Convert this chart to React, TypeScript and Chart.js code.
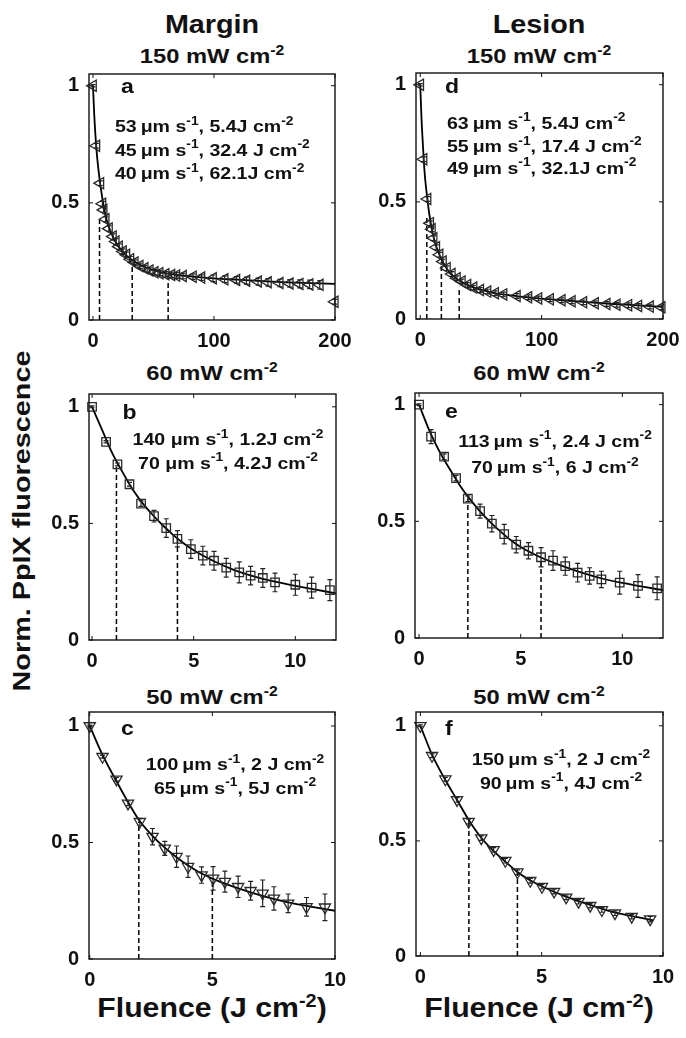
import React, { useEffect, useRef } from "react";
import { Chart, registerables } from "chart.js";

Chart.register(...registerables);

const FONT = '"Liberation Sans", Arial, Helvetica, sans-serif';

// ---------- Panel a : Margin, 150 mW cm-2 ----------
const aX = [0, 2.8, 6.1, 7.8, 8.8, 10.5, 13.2, 16.5, 18.8, 21.5, 24.8, 27.6, 30.9, 34.5, 38.6, 42.7, 46.9, 51, 55.1, 60, 64.8, 68.9, 74.4, 82.6, 89.6, 99.2, 108.8, 118.5, 126.8, 136.4, 144.6, 154.3, 162.6, 170.8, 179, 187.4, 199.8];
const aY = [1.0, 0.744, 0.584, 0.496, 0.47, 0.43, 0.39, 0.356, 0.335, 0.313, 0.292, 0.278, 0.259, 0.245, 0.231, 0.221, 0.211, 0.204, 0.2, 0.195, 0.192, 0.19, 0.188, 0.185, 0.181, 0.178, 0.174, 0.171, 0.168, 0.164, 0.161, 0.158, 0.156, 0.154, 0.152, 0.15, 0.078];
const aErr = [0.005, 0.01, 0.01, 0.01, 0.01, 0.01, 0.012, 0.012, 0.012, 0.012, 0.012, 0.012, 0.012, 0.012, 0.012, 0.012, 0.012, 0.012, 0.012, 0.012, 0.012, 0.012, 0.012, 0.012, 0.012, 0.014, 0.014, 0.014, 0.015, 0.015, 0.016, 0.016, 0.016, 0.017, 0.018, 0.018, 0.01];
const aFitX = [0, 1, 2, 3, 4, 5, 6, 7, 8, 10, 12, 14, 17, 20, 24, 28, 33, 38, 45, 52, 60, 70, 85, 100, 120, 140, 160, 180, 200];
const aFitY = [1.0, 0.88, 0.79, 0.72, 0.665, 0.62, 0.58, 0.545, 0.51, 0.455, 0.415, 0.385, 0.35, 0.322, 0.295, 0.274, 0.254, 0.238, 0.222, 0.21, 0.2, 0.192, 0.184, 0.178, 0.172, 0.166, 0.161, 0.157, 0.154];
const aDashX = [5.4, 32.4, 62.1];
const aDashTop = [0.44, 0.242, 0.2];

// ---------- Panel d : Lesion, 150 mW cm-2 ----------
const dX = [0, 2.7, 6.0, 8.2, 9.6, 11, 13.2, 15.9, 18.7, 22, 26, 30.2, 34.3, 38.9, 43.9, 49.4, 55.4, 61.7, 68.6, 79.6, 89.1, 97.4, 107, 116.6, 124.9, 134.4, 144, 153.6, 161.9, 171.5, 179.7, 189.3, 198.9];
const dY = [1.0, 0.682, 0.512, 0.409, 0.383, 0.345, 0.306, 0.274, 0.245, 0.217, 0.192, 0.174, 0.16, 0.145, 0.134, 0.124, 0.117, 0.11, 0.105, 0.098, 0.093, 0.088, 0.084, 0.08, 0.076, 0.071, 0.067, 0.064, 0.061, 0.059, 0.056, 0.053, 0.05];
const dErr = [0.005, 0.01, 0.01, 0.01, 0.01, 0.01, 0.01, 0.01, 0.01, 0.01, 0.01, 0.01, 0.01, 0.01, 0.01, 0.01, 0.01, 0.01, 0.01, 0.01, 0.01, 0.01, 0.01, 0.01, 0.01, 0.01, 0.01, 0.01, 0.01, 0.01, 0.01, 0.01, 0.01];
const dFitX = [0, 1, 2, 3, 4, 5, 6, 7, 8, 10, 12, 14, 17, 20, 24, 28, 33, 38, 45, 52, 60, 70, 85, 100, 120, 140, 160, 180, 200];
const dFitY = [1.0, 0.86, 0.76, 0.67, 0.6, 0.55, 0.505, 0.465, 0.43, 0.37, 0.33, 0.298, 0.26, 0.23, 0.2, 0.18, 0.162, 0.148, 0.133, 0.122, 0.112, 0.104, 0.094, 0.087, 0.079, 0.071, 0.064, 0.058, 0.052];
const dDashX = [5.4, 17.4, 32.1];
const dDashTop = [0.44, 0.245, 0.138];

// ---------- Panel b : Margin, 60 mW cm-2 ----------
const bX = [0, 0.69, 1.25, 1.84, 2.41, 3.05, 3.65, 4.2, 4.86, 5.45, 6.0, 6.6, 7.24, 7.8, 8.4, 9.0, 10.0, 10.8, 11.7];
const bY = [1.0, 0.85, 0.753, 0.668, 0.585, 0.531, 0.48, 0.434, 0.39, 0.362, 0.34, 0.31, 0.29, 0.276, 0.266, 0.247, 0.237, 0.225, 0.214];
const bErr = [0.004, 0.005, 0.006, 0.008, 0.012, 0.025, 0.04, 0.035, 0.04, 0.04, 0.04, 0.04, 0.045, 0.04, 0.04, 0.04, 0.045, 0.045, 0.045];
const bFitX = [0, 0.5, 1, 1.5, 2, 2.5, 3, 3.5, 4, 4.5, 5, 6, 7, 8, 9, 10, 11, 12];
const bFitY = [1.0, 0.9, 0.8, 0.72, 0.645, 0.585, 0.535, 0.49, 0.45, 0.415, 0.385, 0.338, 0.3, 0.272, 0.25, 0.232, 0.216, 0.2];
const bDashX = [1.2, 4.2];
const bDashTop = [0.755, 0.435];

// ---------- Panel e : Lesion, 60 mW cm-2 ----------
const eX = [0, 0.59, 1.23, 1.82, 2.4, 3.0, 3.58, 4.19, 4.78, 5.38, 6.0, 6.59, 7.19, 7.8, 8.39, 8.97, 9.87, 10.77, 11.71];
const eY = [1.0, 0.863, 0.777, 0.685, 0.597, 0.544, 0.49, 0.445, 0.4, 0.374, 0.346, 0.332, 0.308, 0.28, 0.266, 0.251, 0.237, 0.223, 0.213];
const eErr = [0.004, 0.03, 0.012, 0.012, 0.012, 0.03, 0.035, 0.042, 0.035, 0.035, 0.041, 0.042, 0.039, 0.04, 0.035, 0.035, 0.049, 0.049, 0.049];
const eFitX = [0, 0.5, 1, 1.5, 2, 2.5, 3, 3.5, 4, 4.5, 5, 6, 7, 8, 9, 10, 11, 12];
const eFitY = [1.0, 0.89, 0.8, 0.725, 0.655, 0.595, 0.543, 0.497, 0.457, 0.42, 0.39, 0.345, 0.31, 0.28, 0.255, 0.236, 0.22, 0.205];
const eDashX = [2.4, 6];
const eDashTop = [0.597, 0.345];

// ---------- Panel c : Margin, 50 mW cm-2 ----------
const cX = [0, 0.52, 1.09, 1.56, 2.04, 2.56, 3.06, 3.54, 4.01, 4.56, 5.03, 5.51, 6.05, 6.56, 7.05, 7.51, 8.09, 8.84, 9.59];
const cY = [1.0, 0.868, 0.771, 0.668, 0.589, 0.525, 0.475, 0.439, 0.396, 0.36, 0.346, 0.332, 0.31, 0.293, 0.282, 0.26, 0.239, 0.224, 0.222];
const cErr = [0.004, 0.006, 0.008, 0.01, 0.015, 0.035, 0.03, 0.046, 0.046, 0.035, 0.05, 0.045, 0.046, 0.04, 0.057, 0.05, 0.04, 0.04, 0.057];
const cFitX = [0, 0.5, 1, 1.5, 2, 2.5, 3, 3.5, 4, 4.5, 5, 6, 7, 8, 9, 10];
const cFitY = [1.0, 0.88, 0.78, 0.685, 0.598, 0.535, 0.483, 0.44, 0.402, 0.37, 0.345, 0.305, 0.272, 0.245, 0.225, 0.207];
const cDashX = [2, 5];
const cDashTop = [0.59, 0.343];

// ---------- Panel f : Lesion, 50 mW cm-2 ----------
const fX = [0, 0.48, 1.03, 1.51, 1.99, 2.51, 3.02, 3.5, 4.0, 4.53, 5.01, 5.51, 6.01, 6.52, 7.0, 7.48, 8.02, 8.71, 9.47];
const fY = [1.0, 0.87, 0.768, 0.678, 0.584, 0.512, 0.461, 0.414, 0.364, 0.327, 0.301, 0.28, 0.255, 0.236, 0.219, 0.2, 0.186, 0.171, 0.16];
const fErr = [0.004, 0.008, 0.008, 0.01, 0.01, 0.01, 0.01, 0.01, 0.01, 0.01, 0.01, 0.01, 0.01, 0.01, 0.01, 0.01, 0.01, 0.01, 0.012];
const fFitX = [0, 0.5, 1, 1.5, 2, 2.5, 3, 3.5, 4, 4.5, 5, 6, 7, 8, 9, 9.6];
const fFitY = [1.0, 0.87, 0.77, 0.68, 0.59, 0.515, 0.458, 0.41, 0.365, 0.33, 0.303, 0.258, 0.222, 0.19, 0.168, 0.155];
const fDashX = [2, 4];
const fDashTop = [0.585, 0.365];

// ---------- Axis ticks ----------
const yTicks = [0, 0.5, 1];
const yTickLabels = ["0", "0.5", "1"];
const xTicksHigh = [0, 100, 200];
const xTicksMid = [0, 5, 10];
const xTicksLow = [0, 5, 10];

// ---------- Text ----------
const columnTitles = ["Margin", "Lesion"];
const rowTitles = ["150 mW cm^{-2}", "60 mW cm^{-2}", "50 mW cm^{-2}"];
const xAxisTitle = "Fluence (J cm^{-2})";
const yAxisTitle = "Norm. PpIX fluorescence";
const aLines = ["53\u2009\u03bcm s^{-1}, 5.4J cm^{-2}", "45\u2009\u03bcm s^{-1}, 32.4 J cm^{-2}", "40\u2009\u03bcm s^{-1}, 62.1J cm^{-2}"];
const dLines = ["63\u2009\u03bcm s^{-1}, 5.4J cm^{-2}", "55\u2009\u03bcm s^{-1}, 17.4 J cm^{-2}", "49\u2009\u03bcm s^{-1}, 32.1J cm^{-2}"];
const bLines = ["140 \u03bcm s^{-1}, 1.2J cm^{-2}", "70 \u03bcm s^{-1}, 4.2J cm^{-2}"];
const eLines = ["113\u2009\u03bcm s^{-1}, 2.4 J cm^{-2}", "70\u2009\u03bcm s^{-1}, 6 J cm^{-2}"];
const cLines = ["100\u2009\u03bcm s^{-1}, 2 J cm^{-2}", "65\u2009\u03bcm s^{-1}, 5J cm^{-2}"];
const fLines = ["150\u2009\u03bcm s^{-1}, 2 J cm^{-2}", "90\u2009\u03bcm s^{-1}, 4J cm^{-2}"];

type PanelCfg = {
  key: string;
  l: number; t: number; w: number; h: number;
  xMin: number; xMax: number; yMax: number;
  xTicks: number[];
  px: number[]; py: number[]; pe: number[];
  fx: number[]; fy: number[];
  dx: number[]; dtop: number[];
  marker: string; rot: number; r: number;
  letter: string; letterX: number; letterY: number;
  lines: string[]; lineX: number; lineAlign: "left" | "center"; lineY: number[];
};

const PANELS: PanelCfg[] = [
  { key: "a", l: 89, t: 74, w: 246, h: 246, xMin: -3.3, xMax: 200, yMax: 1.05, xTicks: xTicksHigh,
    px: aX, py: aY, pe: aErr, fx: aFitX, fy: aFitY, dx: aDashX, dtop: aDashTop,
    marker: "triangle", rot: -90, r: 6.5, letter: "a", letterX: 32, letterY: 19,
    lines: aLines, lineX: 26, lineAlign: "left", lineY: [58, 81.5, 105] },
  { key: "d", l: 416, t: 73, w: 247, h: 246, xMin: -3.5, xMax: 200, yMax: 1.05, xTicks: xTicksHigh,
    px: dX, py: dY, pe: dErr, fx: dFitX, fy: dFitY, dx: dDashX, dtop: dDashTop,
    marker: "triangle", rot: -90, r: 6.5, letter: "d", letterX: 29, letterY: 20,
    lines: dLines, lineX: 31, lineAlign: "left", lineY: [55.5, 79, 100.5] },
  { key: "b", l: 89, t: 394, w: 247, h: 246, xMin: -0.15, xMax: 12, yMax: 1.055, xTicks: xTicksMid,
    px: bX, py: bY, pe: bErr, fx: bFitX, fy: bFitY, dx: bDashX, dtop: bDashTop,
    marker: "rect", rot: 0, r: 6, letter: "b", letterX: 33.5, letterY: 25,
    lines: bLines, lineX: 139, lineAlign: "center", lineY: [51, 74.5] },
  { key: "e", l: 415, t: 393, w: 248, h: 245, xMin: -0.2, xMax: 12, yMax: 1.05, xTicks: xTicksMid,
    px: eX, py: eY, pe: eErr, fx: eFitX, fy: eFitY, dx: eDashX, dtop: eDashTop,
    marker: "rect", rot: 0, r: 6, letter: "e", letterX: 30, letterY: 25,
    lines: eLines, lineX: 140, lineAlign: "center", lineY: [53.5, 80] },
  { key: "c", l: 89, t: 712, w: 246, h: 247, xMin: -0.03, xMax: 10, yMax: 1.06, xTicks: xTicksLow,
    px: cX, py: cY, pe: cErr, fx: cFitX, fy: cFitY, dx: cDashX, dtop: cDashTop,
    marker: "triangle", rot: 180, r: 6.5, letter: "c", letterX: 32, letterY: 23,
    lines: cLines, lineX: 146, lineAlign: "center", lineY: [58, 81.5] },
  { key: "f", l: 416, t: 712, w: 247, h: 244, xMin: -0.18, xMax: 10, yMax: 1.06, xTicks: xTicksLow,
    px: fX, py: fY, pe: fErr, fx: fFitX, fy: fFitY, dx: fDashX, dtop: fDashTop,
    marker: "triangle", rot: 180, r: 6.5, letter: "f", letterX: 29, letterY: 23,
    lines: fLines, lineX: 145, lineAlign: "center", lineY: [53, 76.5] },
];

const PADL = 60, PADT = 12, PADR = 18, PADB = 36;

function splitRich(text: string) {
  return text.split(/(\^\{[^}]*\})/).filter((s) => s.length > 0).map((s) =>
    s.startsWith("^{") ? { t: s.slice(2, -1), sup: true } : { t: s, sup: false });
}

function drawRich(ctx: CanvasRenderingContext2D, text: string, x: number, y: number, size: number, align: string, sx: number) {
  const parts = splitRich(text);
  const fN = `bold ${size}px ${FONT}`;
  const fS = `bold ${Math.round(size * 0.68)}px ${FONT}`;
  let w = 0;
  for (const p of parts) { ctx.font = p.sup ? fS : fN; w += ctx.measureText(p.t).width; }
  const x0 = align === "center" ? x - (w * sx) / 2 : x;
  ctx.save();
  ctx.translate(x0, y);
  ctx.scale(sx, 1);
  ctx.textAlign = "left";
  ctx.textBaseline = "alphabetic";
  ctx.fillStyle = "#111";
  let cx = 0;
  for (const p of parts) {
    ctx.font = p.sup ? fS : fN;
    ctx.fillText(p.t, cx, p.sup ? -size * 0.42 : 0);
    cx += ctx.measureText(p.t).width;
  }
  ctx.restore();
}

function PanelChart({ p }: { p: PanelCfg }) {
  const ref = useRef<HTMLCanvasElement | null>(null);
  const cw = p.w + PADL + PADR;
  const ch = p.h + PADT + PADB;
  useEffect(() => {
    if (!ref.current) return;
    const pts = p.px.map((x, i) => ({ x, y: p.py[i] }));
    const fit = p.fx.map((x, i) => ({ x, y: p.fy[i] }));
    const dashSets = p.dx.map((x, i) => ({
      data: [{ x, y: 0 }, { x, y: p.dtop[i] }],
      borderColor: "#000", borderWidth: 1.5, borderDash: [5, 3], pointRadius: 0, showLine: true, fill: false,
    }));

    const errPlugin = {
      id: "errbars" + p.key,
      afterDatasetsDraw(chart: any) {
        const ctx = chart.ctx as CanvasRenderingContext2D;
        const xs = chart.scales.x, ys = chart.scales.y;
        ctx.save();
        ctx.strokeStyle = "#222";
        ctx.lineWidth = 1.2;
        for (let i = 0; i < p.px.length; i++) {
          const x = xs.getPixelForValue(p.px[i]);
          const y1 = ys.getPixelForValue(p.py[i] - p.pe[i]);
          const y2 = ys.getPixelForValue(p.py[i] + p.pe[i]);
          ctx.beginPath();
          ctx.moveTo(x, y1); ctx.lineTo(x, y2);
          ctx.moveTo(x - 2.5, y1); ctx.lineTo(x + 2.5, y1);
          ctx.moveTo(x - 2.5, y2); ctx.lineTo(x + 2.5, y2);
          ctx.stroke();
        }
        ctx.restore();
      },
    };

    const framePlugin = {
      id: "frame" + p.key,
      afterDraw(chart: any) {
        const ctx = chart.ctx as CanvasRenderingContext2D;
        const a = chart.chartArea;
        const xs = chart.scales.x, ys = chart.scales.y;
        ctx.save();
        ctx.strokeStyle = "#111";
        ctx.lineWidth = 1.4;
        ctx.strokeRect(a.left, a.top, a.right - a.left, a.bottom - a.top);
        ctx.lineWidth = 1;
        ctx.beginPath();
        for (const v of p.xTicks) {
          const x = xs.getPixelForValue(v);
          ctx.moveTo(x, a.bottom); ctx.lineTo(x, a.bottom - 4);
          ctx.moveTo(x, a.top); ctx.lineTo(x, a.top + 4);
        }
        for (const v of yTicks) {
          const y = ys.getPixelForValue(v);
          ctx.moveTo(a.left, y); ctx.lineTo(a.left + 4, y);
          ctx.moveTo(a.right, y); ctx.lineTo(a.right - 4, y);
        }
        ctx.stroke();
        ctx.restore();
        drawRich(ctx, p.letter, a.left + p.letterX, a.top + p.letterY, 20, "left", 1.15);
        p.lines.forEach((ln, i) => {
          drawRich(ctx, ln, a.left + p.lineX, a.top + p.lineY[i], 17, p.lineAlign, 1.15);
        });
      },
    };

    const tickFont = { family: FONT, size: 20, weight: "bold" as const };
    const chart = new Chart(ref.current, {
      type: "line",
      data: {
        datasets: [
          {
            data: pts, showLine: false, pointStyle: p.marker as any, rotation: p.rot, pointRadius: p.r,
            borderColor: "#2a2a2a", backgroundColor: "rgba(255,255,255,0)", pointBorderWidth: 1.3,
            pointBackgroundColor: "rgba(255,255,255,0)", pointBorderColor: "#2a2a2a", clip: false as any,
          },
          {
            data: fit, showLine: true, borderColor: "#000", borderWidth: 1.8, pointRadius: 0,
            cubicInterpolationMode: "monotone", fill: false,
          },
          ...dashSets,
        ] as any,
      },
      options: {
        responsive: false,
        animation: false,
        devicePixelRatio: 1,
        events: [],
        layout: { padding: { left: 0, top: PADT, right: PADR, bottom: 0 } },
        plugins: { legend: { display: false }, tooltip: { enabled: false }, title: { display: false } },
        scales: {
          x: {
            type: "linear", min: p.xMin, max: p.xMax,
            grid: { display: false, drawTicks: false },
            border: { display: false },
            ticks: { font: tickFont, color: "#111", padding: 9, maxRotation: 0, autoSkip: false, callback: (v: any) => String(v) },
            afterBuildTicks: (s: any) => { s.ticks = p.xTicks.map((v) => ({ value: v })); },
            afterFit: (s: any) => { s.height = PADB; s.paddingLeft = 0; s.paddingRight = 0; s.paddingTop = 0; s.paddingBottom = 0; },
          },
          y: {
            type: "linear", min: 0, max: p.yMax,
            grid: { display: false, drawTicks: false },
            border: { display: false },
            ticks: {
              font: tickFont, color: "#111", padding: 10,
              callback: (v: any) => { const i = yTicks.indexOf(v); return i >= 0 ? yTickLabels[i] : String(v); },
            },
            afterBuildTicks: (s: any) => { s.ticks = yTicks.map((v) => ({ value: v })); },
            afterFit: (s: any) => { s.width = PADL; s.paddingLeft = 0; s.paddingRight = 0; s.paddingTop = 0; s.paddingBottom = 0; },
          },
        },
      } as any,
      plugins: [errPlugin, framePlugin],
    });
    return () => chart.destroy();
  }, [p]);
  return (
    <canvas
      ref={ref}
      width={cw}
      height={ch}
      style={{ position: "absolute", left: p.l - PADL, top: p.t - PADT, width: cw, height: ch }}
    />
  );
}

function Rich({ text }: { text: string }) {
  return (
    <>
      {splitRich(text).map((s, i) =>
        s.sup ? (
          <span key={i} style={{ fontSize: "0.66em", position: "relative", top: "-0.55em" }}>{s.t}</span>
        ) : (
          <span key={i}>{s.t}</span>
        )
      )}
    </>
  );
}

function Label({ x, y, size, sx, text, rotate }: { x: number; y: number; size: number; sx: number; text: string; rotate?: boolean }) {
  const tf = rotate
    ? `translate(-50%, -50%) rotate(-90deg) scaleX(${sx})`
    : `translate(-50%, -50%) scaleX(${sx})`;
  return (
    <div
      style={{
        position: "absolute", left: x, top: y, transform: tf, whiteSpace: "nowrap",
        fontFamily: FONT, fontWeight: "bold", fontSize: size, lineHeight: 1, color: "#111",
      }}
    >
      <Rich text={text} />
    </div>
  );
}

export default function App() {
  const colX = [212, 539];
  const rowY = [55, 372, 696];
  return (
    <div style={{ position: "absolute", left: 0, top: 0, width: 686, height: 1038, background: "#fff", overflow: "hidden" }}>
      {columnTitles.map((t, i) => (
        <Label key={"c" + i} x={colX[i]} y={24} size={25} sx={1.15} text={t} />
      ))}
      {rowTitles.map((t, r) =>
        colX.map((x, c) => <Label key={"r" + r + c} x={x} y={rowY[r]} size={21} sx={1.13} text={t} />)
      )}
      {colX.map((x, c) => (
        <Label key={"x" + c} x={x} y={1008} size={28} sx={1.08} text={xAxisTitle} />
      ))}
      <Label x={22} y={521} size={24} sx={1.2} text={yAxisTitle} rotate />
      {PANELS.map((p) => (
        <PanelChart key={p.key} p={p} />
      ))}
    </div>
  );
}
